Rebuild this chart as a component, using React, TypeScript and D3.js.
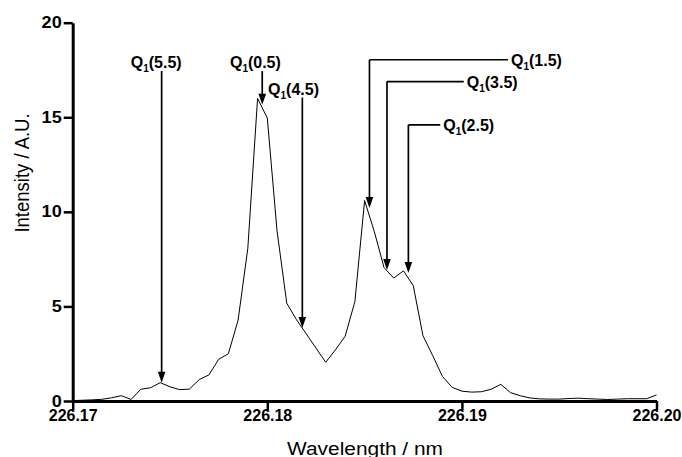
import React, { useEffect, useRef } from 'react';
import * as d3 from 'd3';

// spectrum (step 0.0005 nm)
const wavelength = [
  226.1700, 226.1705, 226.1710, 226.1715, 226.1720, 226.1725, 226.1730, 226.1735, 226.1740, 226.1745,
  226.1750, 226.1755, 226.1760, 226.1765, 226.1770, 226.1775, 226.1780, 226.1785, 226.1790, 226.1795,
  226.1800, 226.1805, 226.1810, 226.1815, 226.1820, 226.1825, 226.1830, 226.1835, 226.1840, 226.1845,
  226.1850, 226.1855, 226.1860, 226.1865, 226.1870, 226.1875, 226.1880, 226.1885, 226.1890, 226.1895,
  226.1900, 226.1905, 226.1910, 226.1915, 226.1920, 226.1925, 226.1930, 226.1935, 226.1940, 226.1945,
  226.1950, 226.1955, 226.1960, 226.1965, 226.1970, 226.1975, 226.1980, 226.1985, 226.1990, 226.1995,
  226.2000,
];
const intensity = [
  0.02, 0.04, 0.06, 0.09, 0.17, 0.28, 0.08, 0.62, 0.7, 0.97,
  0.75, 0.6, 0.63, 1.13, 1.38, 2.2, 2.5, 4.28, 8.08, 16.0,
  14.96, 9.0, 5.17, 4.3, 3.55, 2.8, 2.05, 2.7, 3.42, 5.25,
  10.6, 8.95, 7.05, 6.5, 6.88, 6.1, 3.45, 2.4, 1.3, 0.72,
  0.52, 0.47, 0.49, 0.62, 0.88, 0.44, 0.28, 0.16, 0.11, 0.1,
  0.1, 0.13, 0.15, 0.12, 0.1, 0.08, 0.1, 0.12, 0.12, 0.12,
  0.32,
];

const xMajorTicks = [226.17, 226.18, 226.19, 226.20];
const xMinorTicks = [226.175, 226.185, 226.195];
const yMajorTicks = [0, 5, 10, 15, 20];
const yMinorTicks = [2.5, 7.5, 12.5, 17.5];

// line assignments: J value, arrow wavelength, arrow tip intensity
const annJ = ['5.5', '0.5', '4.5', '1.5', '3.5', '2.5'];
const annWavelength = [226.17457, 226.17974, 226.18180, 226.18525, 226.18615, 226.18725];
const annTip = [0.97, 15.66, 3.86, 10.2, 6.93, 6.77];
// label anchor (data units): start of text, row level; elbow = bracket-style leader
const annLabelX = [226.17298, 226.17808, 226.18004, 226.19252, 226.19025, 226.18904];
const annLabelY = [17.6, 17.6, 16.2, 18.04, 16.89, 14.6];
const annElbow = [false, false, false, true, true, true];

const STRETCH = 1.13; // some of the original's lettering is a bit wide

const App = () => {
  const svgRef = useRef<SVGSVGElement | null>(null);

  useEffect(() => {
    document.body.style.margin = '0';
    const svg = d3.select(svgRef.current);
    svg.selectAll('*').remove();

    const x = d3.scaleLinear().domain([226.17, 226.2]).range([72.7, 656.5]);
    const y = d3.scaleLinear().domain([0, 20]).range([401, 22.7]);
    const font = '"Liberation Sans", Arial, sans-serif';

    // x axis
    const gx = svg.append('g').attr('transform', `translate(0,${y(0)})`);
    gx.call(d3.axisBottom(x).tickValues(xMinorTicks).tickSize(5).tickSizeOuter(0).tickFormat(() => ''));
    gx.call(
      d3.axisBottom(x).tickValues(xMajorTicks).tickSize(9).tickSizeOuter(0).tickPadding(0)
        .tickFormat(d3.format('.2f'))
    );
    // y axis
    const gy = svg.append('g').attr('transform', `translate(${x(226.17)},0)`);
    gy.call(d3.axisLeft(y).tickValues(yMinorTicks).tickSize(5).tickSizeOuter(0).tickFormat(() => ''));
    gy.call(d3.axisLeft(y).tickValues(yMajorTicks).tickSize(9).tickSizeOuter(0).tickPadding(2)
      .tickFormat(d3.format('d')));

    svg.selectAll('.domain').attr('stroke', '#000').attr('stroke-width', 3);
    svg.selectAll('.tick line').attr('stroke', '#000').attr('stroke-width', 2.5);
    svg.selectAll('.tick text')
      .attr('fill', '#000')
      .style('font-family', font)
      .style('font-weight', 'bold')
      .style('font-size', '16px');
    gy.selectAll('.tick text')
      .attr('x', -11 / STRETCH)
      .attr('transform', `scale(${STRETCH},1)`);

    // axis titles
    svg.append('text')
      .attr('transform', `translate(365,455) scale(${STRETCH},1)`)
      .attr('text-anchor', 'middle')
      .style('font-family', font)
      .style('font-size', '18.5px')
      .text('Wavelength / nm');
    svg.append('text')
      .attr('transform', `translate(28.5,173) scale(${STRETCH},1) rotate(-90)`)
      .attr('text-anchor', 'middle')
      .style('font-family', font)
      .style('font-size', '18.5px')
      .text('Intensity / A.U.');

    // spectrum
    const pts = wavelength.map((w, i) => [w, intensity[i]] as [number, number]);
    svg.append('path')
      .datum(pts)
      .attr('fill', 'none')
      .attr('stroke', '#000')
      .attr('stroke-width', 1)
      .attr('d', d3.line<[number, number]>().x(d => x(d[0])).y(d => y(d[1])));

    // annotations
    const ann = svg.append('g');
    annJ.forEach((j, i) => {
      const ax = x(annWavelength[i]);
      const tipY = y(annTip[i]);
      const labelX = x(annLabelX[i]);
      const rowY = y(annLabelY[i]);
      let topY: number;
      let baseY: number;
      if (annElbow[i]) {
        topY = rowY;
        baseY = rowY + 6;
        ann.append('line')
          .attr('x1', ax).attr('y1', rowY)
          .attr('x2', labelX - 3).attr('y2', rowY)
          .attr('stroke', '#000').attr('stroke-width', 1.7);
      } else {
        baseY = rowY;
        topY = rowY + 3;
      }
      ann.append('line')
        .attr('x1', ax).attr('y1', topY)
        .attr('x2', ax).attr('y2', tipY - 8)
        .attr('stroke', '#000').attr('stroke-width', 1.7);
      ann.append('path')
        .attr('d', `M${ax},${tipY} L${ax - 3.8},${tipY - 11} L${ax + 3.8},${tipY - 11} Z`)
        .attr('fill', '#000');

      const t = ann.append('text')
        .attr('x', labelX)
        .attr('y', baseY)
        .style('font-family', font)
        .style('font-weight', 'bold')
        .style('font-size', '16px');
      t.append('tspan').text('Q');
      t.append('tspan').attr('dy', 4).style('font-size', '10px').text('1');
      t.append('tspan').attr('dy', -4).text(`(${j})`);
    });
  }, []);

  return (
    <svg
      ref={svgRef}
      width={682}
      height={457}
      style={{ display: 'block', background: '#fff' }}
    />
  );
};

export default App;
